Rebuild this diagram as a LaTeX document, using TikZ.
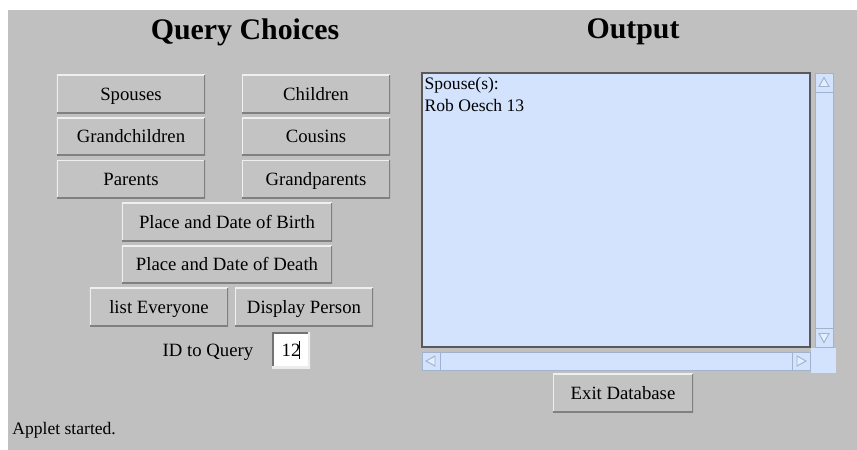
\documentclass[tikz,border=0pt]{standalone}
\usepackage{fontspec}
\setmainfont{Liberation Serif}
\usetikzlibrary{positioning,calc}
\definecolor{panelgray}{RGB}{192,192,192}
\definecolor{btngray}{RGB}{195,195,195}
\definecolor{areablue}{RGB}{212,227,253}
\definecolor{barblue}{RGB}{160,178,204}
\begin{document}
\begin{tikzpicture}[x=0.03cm, y=-0.03cm, node distance=1.275cm,
    main/.style={rectangle, fill=btngray, inner sep=0pt, minimum width=4.44cm, minimum height=1.14cm,
        font=\fontsize{16}{19}\selectfont, text height=12pt, text depth=1.5pt,
        path picture={
            \draw[white!75!panelgray, line width=2.2pt] (path picture bounding box.south west) |- (path picture bounding box.north east);
            \draw[black!50, line width=2.2pt] (path picture bounding box.south west) -| (path picture bounding box.north east);}},
    sunken/.style={rectangle, fill=white, inner sep=0pt,
        path picture={
            \draw[black!55, line width=2.6pt] (path picture bounding box.south west) |- (path picture bounding box.north east);
            \draw[white!70!panelgray, line width=2.6pt] (path picture bounding box.south west) -| (path picture bounding box.north east);}},
    title/.style={font=\fontsize{25.5}{30}\selectfont\bfseries},
    label/.style={font=\fontsize{16}{19}\selectfont, inner sep=1pt},
    bar/.style={rectangle, fill=areablue, draw=barblue, line width=0.8pt, inner sep=0pt},
    tri/.style={draw=barblue, fill=areablue!60!white, line width=0.8pt}]
    % panel
    \fill[white] (0,0) rectangle (857,450);
    \fill[panelgray] (8,10) rectangle (857,450);
    \node[title] (t1) at (245,32) {Query Choices};
    \node[title] (t2) at (633,32) {Output};
    % query buttons
    \node[main] (1) at (131,94) {Spouses};
    \node[main] (2) [right of=1, node distance=5.55cm] {Children};
    \node[main] (3) [below of=1] {Grandchildren};
    \node[main] (4) [below of=2] {Cousins};
    \node[main] (5) [below of=3] {Parents};
    \node[main] (6) [below of=4] {Grandparents};
    \node[main, minimum width=6.3cm] (7) at (227,222) {Place and Date of Birth};
    \node[main, minimum width=6.3cm] (8) [below of=7] {Place and Date of Death};
    \node[main, minimum width=4.14cm, minimum height=1.17cm] (9) at (159,307) {list Everyone};
    \node[main, minimum width=4.14cm, minimum height=1.17cm] (10) [right of=9, node distance=4.35cm] {Display Person};
    \node[label] (11) at (208,352) {ID to Query};
    \node[sunken, minimum width=1.14cm, minimum height=1.08cm, label, inner sep=0pt] (12) at (291,350) {12};
    \draw[black, line width=0.6pt] ($(12.center)+(8,-9)$) -- ($(12.center)+(8,9)$);
    % output area
    \node[rectangle, fill=areablue, minimum width=0.75cm, minimum height=0.75cm] (21) at (823,360) {};
    \node[rectangle, fill=areablue, draw=black!65, line width=1.3pt, minimum width=11.64cm, minimum height=8.22cm] (13) at (616,210) {};
    \node[label, anchor=north west, align=left, font=\fontsize{15}{18.5}\selectfont] (14) at ($(13.north west)+(2,4)$) {Spouse(s):\\Rob Oesch 13};
    \node[bar, minimum width=0.54cm, minimum height=8.22cm] (15) at (824,210) {};
    \node[bar, minimum width=0.54cm, minimum height=0.57cm, anchor=north] (16) at (15.north) {};
    \node[bar, minimum width=0.54cm, minimum height=0.57cm, anchor=south] (17) at (15.south) {};
    \node[bar, minimum width=11.64cm, minimum height=0.54cm] (18) at (616,361) {};
    \node[bar, minimum width=0.54cm, minimum height=0.54cm, anchor=west] (19) at (18.west) {};
    \node[bar, minimum width=0.54cm, minimum height=0.54cm, anchor=east] (20) at (18.east) {};
    \draw[tri] ($(16.center)+(-5,4)$) -- ($(16.center)+(0,-5)$) -- ($(16.center)+(5,4)$) -- cycle;
    \draw[tri] ($(17.center)+(-5,-4)$) -- ($(17.center)+(0,5)$) -- ($(17.center)+(5,-4)$) -- cycle;
    \draw[tri] ($(19.center)+(4,-5)$) -- ($(19.center)+(-5,0)$) -- ($(19.center)+(4,5)$) -- cycle;
    \draw[tri] ($(20.center)+(-4,-5)$) -- ($(20.center)+(5,0)$) -- ($(20.center)+(-4,5)$) -- cycle;
    \node[main, minimum width=4.2cm, minimum height=1.17cm] (22) at (623,393) {Exit Database};
    % status line
    \node[label, anchor=west, font=\fontsize{15}{18}\selectfont] (23) at (11,430) {Applet started.};
\end{tikzpicture}
\end{document}
